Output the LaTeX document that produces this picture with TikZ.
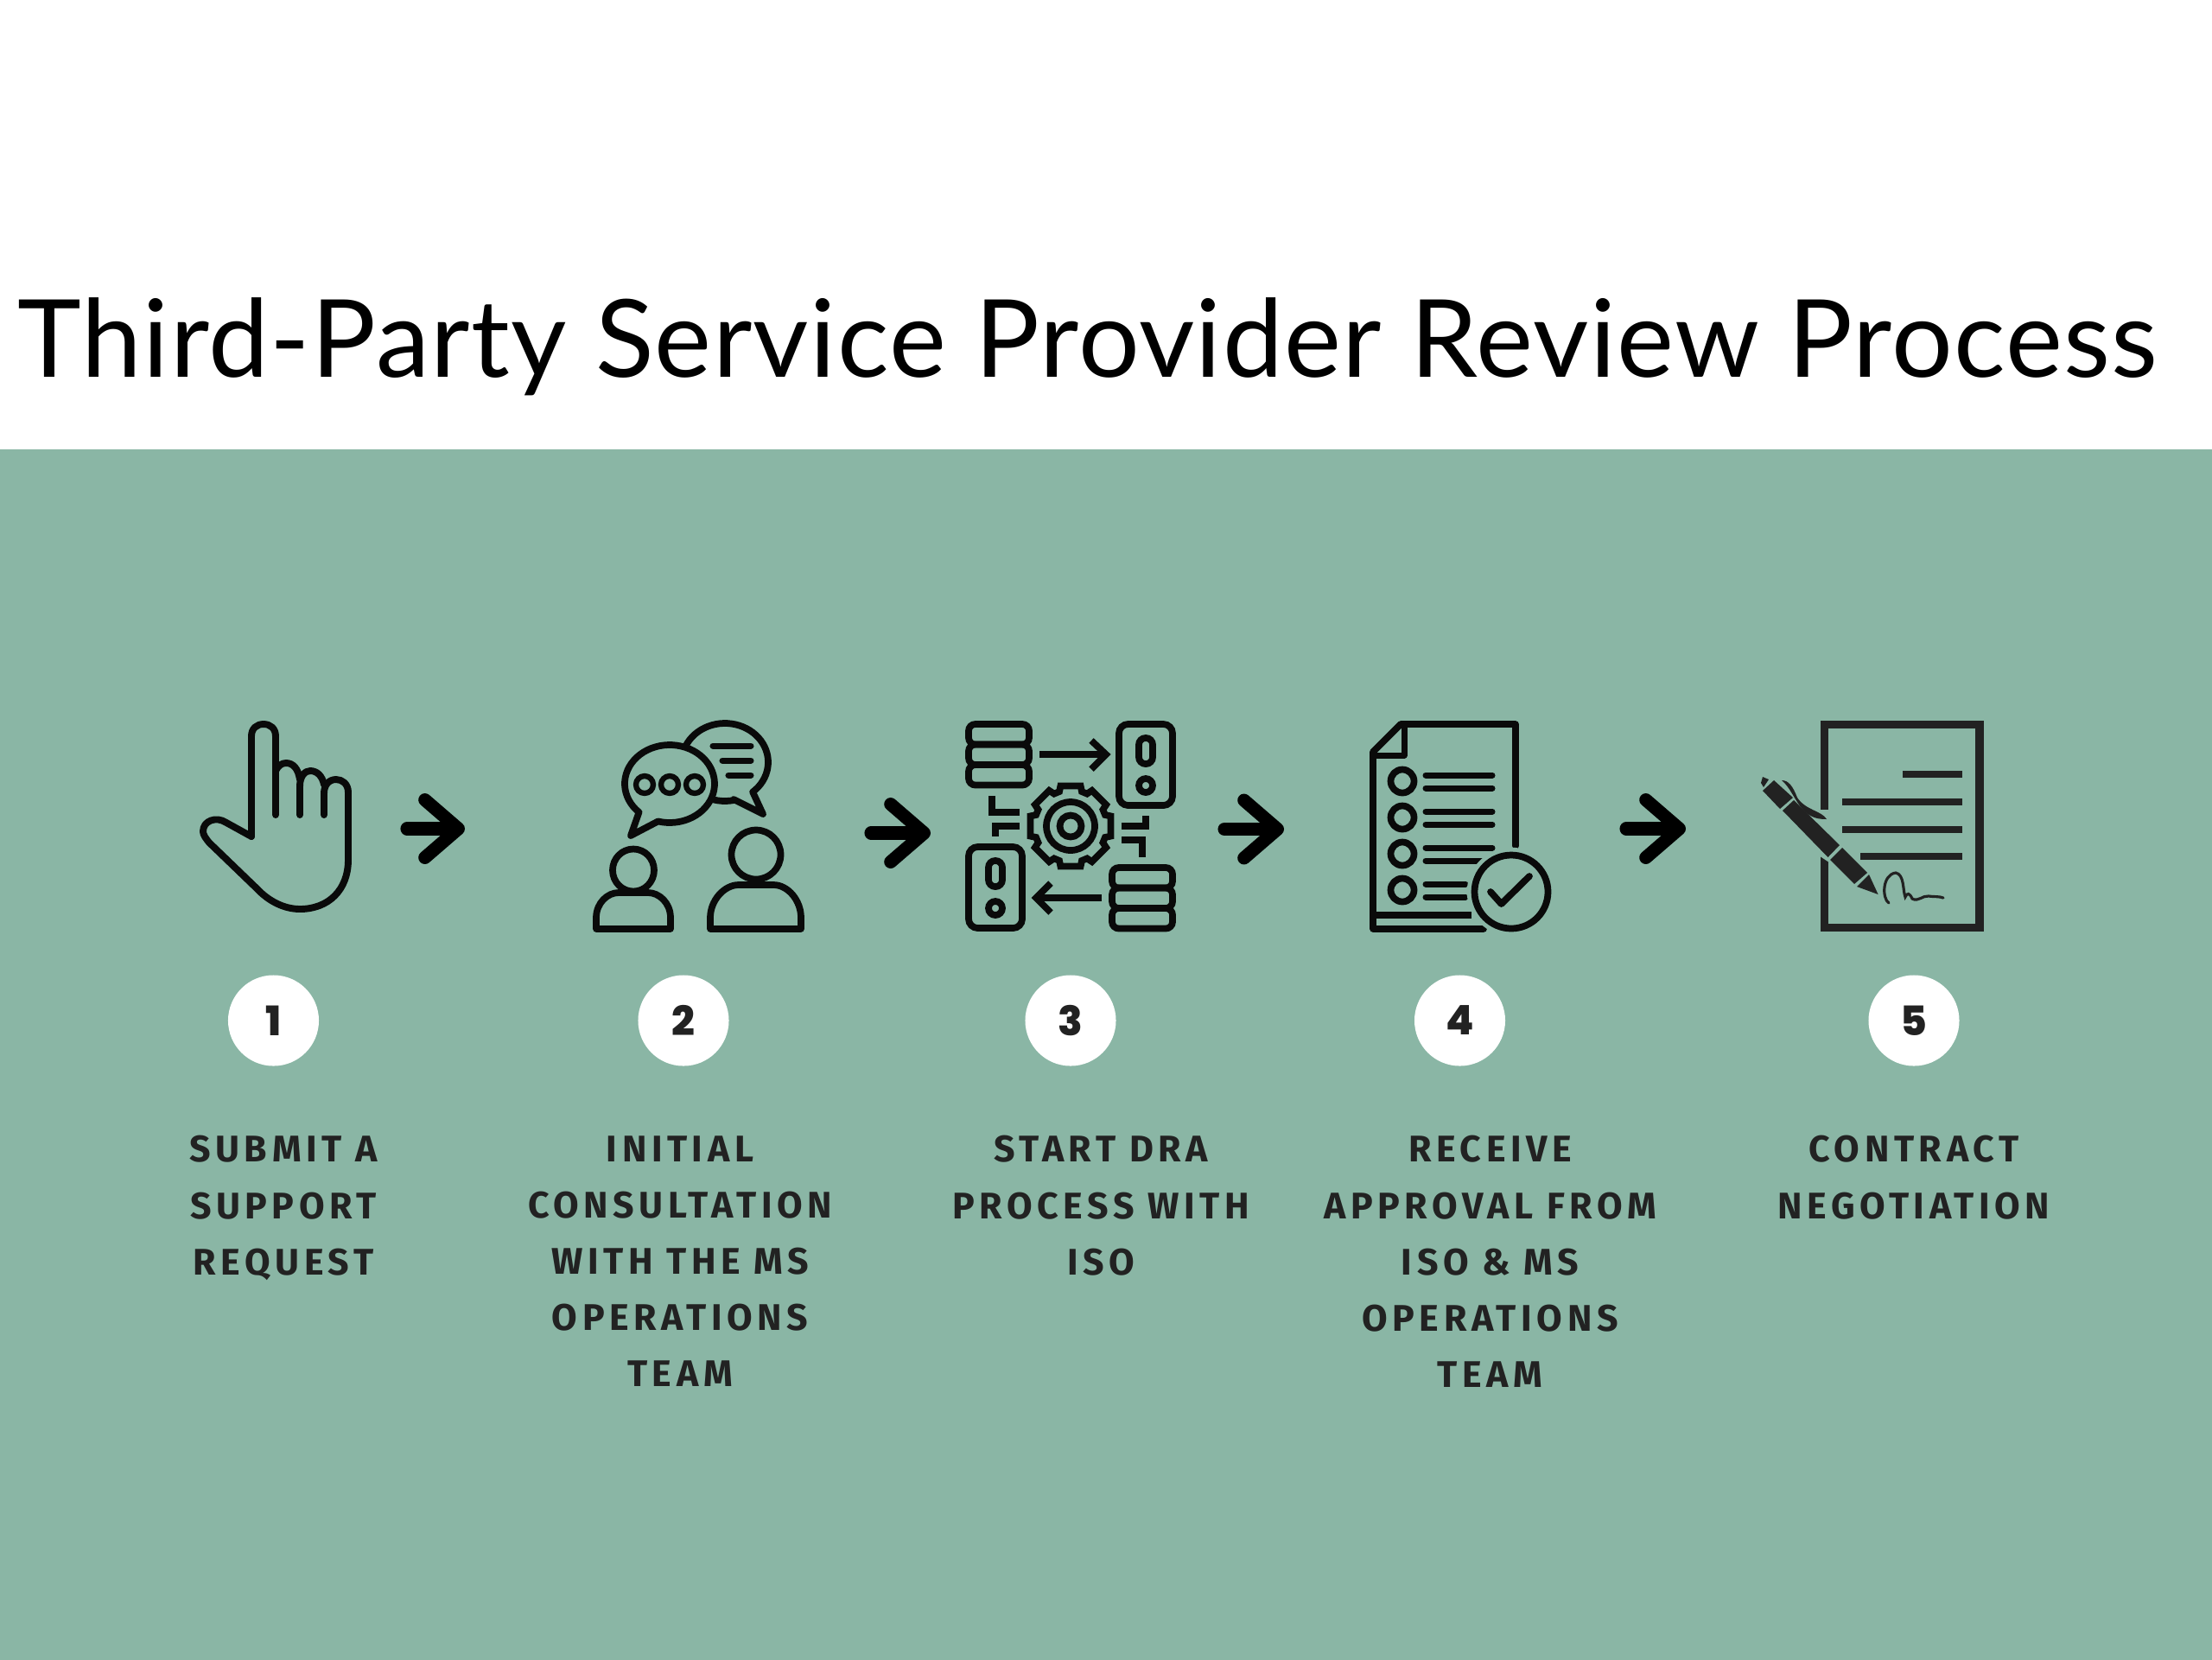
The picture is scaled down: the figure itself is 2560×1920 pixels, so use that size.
\documentclass[tikz,border=0pt]{standalone}
\usepackage{fontspec}
\usepackage{xcolor}
\usetikzlibrary{positioning,arrows.meta}
\setmainfont[LetterSpace=1.1]{Lato}
\newfontfamily\lblfont[LetterSpace=13]{Fira Sans}
\newfontfamily\numfont[BoldFont={Poppins ExtraBold}]{Poppins}
\definecolor{panelc}{RGB}{138,182,165}
\definecolor{inkc}{RGB}{34,34,34}
\definecolor{glyphc}{RGB}{10,10,10}
\tikzset{
  titletext/.style = {font=\fontsize{35.5}{44}\selectfont, text=black, inner sep=0pt},
  numdisc/.style   = {circle, fill=white, minimum size=1.05cm, inner sep=0pt,
                      font=\numfont\bfseries\fontsize{13.4}{16}\selectfont, text=inkc},
  steplbl/.style   = {align=center, inner sep=0pt, text=inkc,
                      font=\lblfont\bfseries\fontsize{12.2}{18.5}\selectfont},
  flow/.style      = {-{Straight Barb[length=11pt,width=19pt,round]}, line width=4.3pt,
                      line cap=round, draw=black},
  glyph/.style     = {draw=glyphc, line width=2.2pt, line cap=round, line join=round},
  hardglyph/.style = {draw=glyphc, line width=2.2pt, line cap=butt, line join=miter},
  glyphbar/.style  = {draw=glyphc, line width=2pt, line cap=round},
  sheetbar/.style  = {draw=inkc, line width=2.5pt},
  penpart/.style   = {fill=inkc, draw=none},
}
% server stack and a small panel, both used twice in the gear icon
\newcommand{\serverstack}[2]{%
  \begin{scope}[shift={(#1,#2)}]
    \draw[hardglyph, rounded corners=2.2pt] (0,0) rectangle (70,23.5);
    \draw[hardglyph, rounded corners=2.2pt] (0,23.5) rectangle (70,47);
    \draw[hardglyph, rounded corners=2.2pt] (0,47) rectangle (70,70.5);
  \end{scope}}
\newcommand{\smallpanel}[2]{%
  \begin{scope}[shift={(#1,#2)}]
    \draw[hardglyph, rounded corners=3pt] (0,0) rectangle (62,94);
    \draw[hardglyph, rounded corners=2.2pt] (23,16) rectangle (39,46);
    \draw[hardglyph] (31,71) circle[radius=8];
  \end{scope}}

\begin{document}
\begin{tikzpicture}[x=0.01cm, y=-0.01cm, node distance=7.95mm]

\useasboundingbox (0,0) rectangle (2560,1920);
\fill[white] (0,0) rectangle (2560,1920);
\fill[panelc] (0,520) rectangle (2570,1930);

\node[titletext, anchor=base west] (title) at (20,436) {Third-Party Service Provider Review Process};

% hand
\draw[glyph, line width=2.25pt] (291,968) -- (291,852) .. controls (291,843) and (297,838) .. (305,838)
  .. controls (313,838) and (319,843) .. (319,852) -- (319,943);
\draw[glyph, line width=2.25pt] (291,968) -- (262,952) .. controls (250,944) and (235,950) .. (235,962)
  .. controls (235,966) and (238,970) .. (242,975) -- (297,1028)
  .. controls (310,1042) and (328,1052) .. (347,1052) .. controls (380,1052) and (403,1030) .. (403,995)
  -- (403,917) .. controls (403,907) and (396,902) .. (389,902)
  .. controls (381,902) and (375,908) .. (375,918) -- (375,943);
\draw[glyph, line width=2.25pt] (347,943) -- (347,910) .. controls (347,898) and (353,892) .. (359,892)
  .. controls (367,892) and (373,898) .. (375,908);
\draw[glyph, line width=2.25pt] (319,892) .. controls (322,886) and (326,883) .. (331,883)
  .. controls (339,883) and (345,889) .. (347,902);

% two people talking
\draw[glyph] (733,1007) ellipse[x radius=24, y radius=24.5];
\draw[glyph] (875,989) ellipse[x radius=28.5, y radius=28.5];
\draw[glyph] (690,1075) -- (690,1062) .. controls (690,1045) and (703,1033) .. (716,1033) -- (750,1033)
  .. controls (763,1033) and (776,1045) .. (776,1062) -- (776,1075) -- cycle;
\draw[glyph] (822,1075) -- (822,1062) .. controls (822,1042) and (838,1024) .. (855,1024) -- (895,1024)
  .. controls (912,1024) and (927,1042) .. (927,1062) -- (927,1075) -- cycle;
\draw[glyph] plot[domain=205:410, samples=40] ({839+50*cos(\x)},{882+45*sin(\x)}) -- (883,942) -- (849,925)
  plot[domain=78:105, samples=6] ({839+50*cos(\x)},{882+45*sin(\x)});
\draw[glyph] plot[domain=133:465, samples=60] ({775+52*cos(\x)},{907+45*sin(\x)}) -- (730,967) -- cycle;
\foreach \cx in {746,775,804} \draw[glyph, line width=1.8pt] (\cx,908) circle[radius=10];
\draw[glyphbar] (825,863) -- (869,863);
\draw[glyphbar] (836,880) -- (869,880);
\draw[glyphbar] (843,897) -- (869,897);

% gear and the servers round it
\serverstack{1121}{838}
\serverstack{1287}{1004}
\smallpanel{1295}{838}
\smallpanel{1121}{980}
\draw[hardglyph] (1203,873) -- (1278,873);
\draw[hardglyph] (1263,857) -- (1280,873) -- (1263,890);
\draw[hardglyph] (1275,1039) -- (1200,1039);
\draw[hardglyph] (1216,1022) -- (1199,1039) -- (1216,1056);
\draw[hardglyph] (1148,921) -- (1148,940) -- (1180,940);
\draw[hardglyph] (1180,956) -- (1152,956) -- (1152,968);
\draw[hardglyph] (1298,956) -- (1326,956) -- (1326,944);
\draw[hardglyph] (1298,972) -- (1322,972) -- (1322,992);
\begin{scope}[shift={(1239,956)}]
  \draw[hardglyph] (0,0) circle[radius=28];
  \draw[hardglyph] (0,0) circle[radius=12.5];
  \draw[hardglyph] (-14:48) \foreach \a in {0,45,...,315} {
      -- ({\a-14}:48) -- ({\a+14}:48) -- ({\a+18}:42) -- ({\a+27}:42) } -- cycle;
\end{scope}

% checklist with the badge
\draw[glyph, line width=2.2pt] (1754,979) -- (1754,838) -- (1621,838) -- (1589,870) -- (1589,1075) -- (1717,1075);
\draw[glyph, line width=2pt] (1625,840) -- (1625,874) -- (1589,874);
\draw[hardglyph] (1590,1059) -- (1703,1059);
\foreach \cy in {904,946,988,1030} \draw[glyph] (1623,\cy) circle[radius=13.5];
\foreach \cy in {897,912,939,954,981} \draw[glyphbar] (1650,\cy) -- (1727,\cy);
\draw[glyphbar] (1650,996) -- (1727,996);
\draw[glyphbar] (1650,1023) -- (1696,1023);
\draw[glyphbar] (1650,1038) -- (1696,1038);
\draw[draw=panelc, fill=panelc, line width=3pt] (1749,1032) circle[radius=46];
\draw[glyph] (1749,1032) circle[radius=42.5];
\draw[glyph] (1725,1032) -- (1737.5,1046) -- (1770,1014);

% signed sheet
\draw[draw=inkc, line width=2.6pt] (2111.5,838.5) rectangle (2291,1073.5);
\draw[sheetbar] (2202,896) -- (2271,896);
\draw[sheetbar] (2132,928) -- (2271,928);
\draw[sheetbar] (2132,960) -- (2271,960);
\draw[sheetbar] (2153,991) -- (2271,991);
\fill[panelc] (2105,937) -- (2120,937) -- (2120,1000) -- (2105,990) -- cycle;
\fill[penpart] (2053,903) -- (2075,923) -- (2060,936) -- (2040,915) -- cycle;
\fill[penpart] (2076,926) -- (2129,978) -- (2115.5,992) -- (2063,938) -- cycle;
\fill[penpart] (2132,981) -- (2161,1010) -- (2146,1023) -- (2118,995) -- cycle;
\fill[penpart] (2163,1012) -- (2173.6,1035) -- (2149,1026) -- cycle;
\fill[penpart] (2040,899) -- (2047,902) -- (2041,911) -- (2038,906) -- cycle;
\fill[penpart] (2062,903) .. controls (2070,903) and (2075,910) .. (2080,923)
  .. controls (2090,938) and (2108,938) .. (2114,948) .. controls (2100,948) and (2090,945) .. (2078,925)
  .. controls (2072,915) and (2068,908) .. (2062,903) -- cycle;
\draw[draw=inkc, line width=0.9pt, line cap=round] (2186,1045) .. controls (2178,1040) and (2178,1012) .. (2194,1010)
  .. controls (2204,1012) and (2202,1030) .. (2205,1038) .. controls (2207,1033) and (2210,1033) .. (2213,1040)
  .. controls (2220,1044) and (2225,1036) .. (2232,1037) .. controls (2238,1038) and (2244,1037) .. (2249,1039);

% connectors between the icons
\coordinate (handout) at (471,959);
\coordinate (talkin) at (538,959);
\coordinate (talkout) at (1008,964);
\coordinate (gearin) at (1077,964);
\coordinate (gearout) at (1417,959.5);
\coordinate (listin) at (1486,959.5);
\coordinate (listout) at (1882,959);
\coordinate (signin) at (1951,959);
\draw[flow] (handout) -- (talkin);
\draw[flow] (talkout) -- (gearin);
\draw[flow] (gearout) -- (listin);
\draw[flow] (listout) -- (signin);

% numbers and captions
\node[numdisc] (num1) at (316.5,1181) {1};
\node[numdisc] (num2) at (791,1181) {2};
\node[numdisc] (num3) at (1239,1181) {3};
\node[numdisc] (num4) at (1689.5,1181) {4};
\node[numdisc] (num5) at (2215,1181) {5};

\node[steplbl, below=of num1, xshift=1.15mm] (lbl1) {SUBMIT A\\SUPPORT\\REQUEST};
\node[steplbl, below=of num2, xshift=-0.4mm] (lbl2) {INITIAL\\CONSULTATION\\WITH THE MS\\OPERATIONS\\TEAM};
\node[steplbl, below=of num3, xshift=3.5mm] (lbl3) {START DRA\\PROCESS WITH\\ISO};
\node[steplbl, below=of num4, xshift=3.5mm] (lbl4) {RECEIVE\\APPROVAL FROM\\ISO \& MS\\OPERATIONS\\TEAM};
\node[steplbl, below=of num5] (lbl5) {CONTRACT\\NEGOTIATION};

\end{tikzpicture}
\end{document}
